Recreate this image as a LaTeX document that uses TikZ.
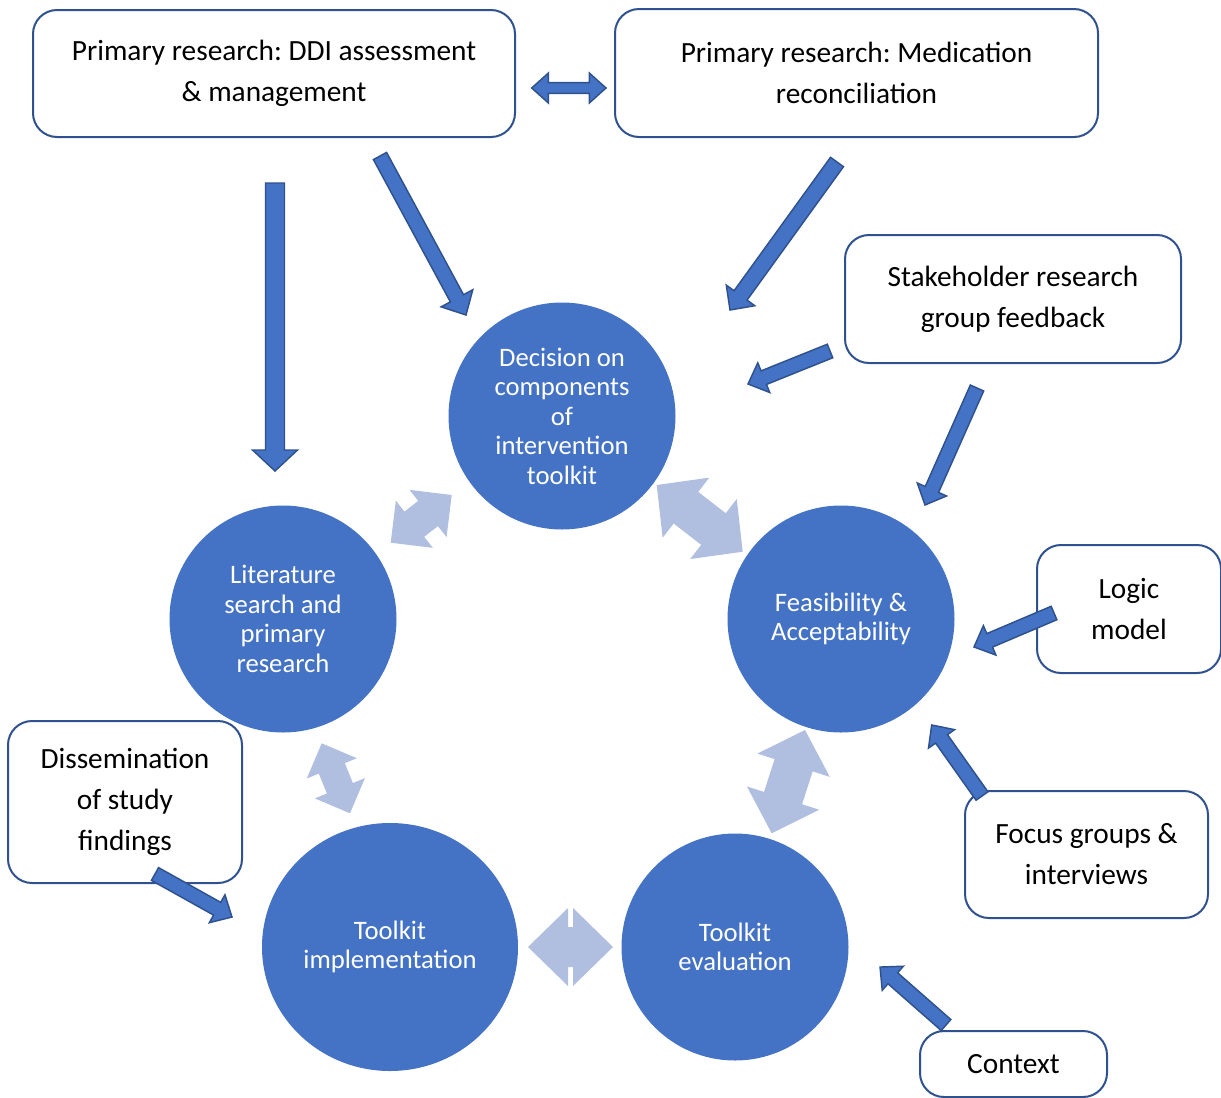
\documentclass[tikz,border=0pt]{standalone}
\usepackage{fontspec}
\setmainfont{Carlito}
\frenchspacing
\usetikzlibrary{shapes.geometric}

\definecolor{circblue}{HTML}{4472C4}
\definecolor{edgeblue}{HTML}{2F528F}
\definecolor{paleblue}{HTML}{B0BEE0}

% Single block arrow from tail (#2,#3) to tip (#4,#5);
% #6 shaft half-width, #7 head half-width, #8 head length (all in px)
\newcommand\blockarrow[8]{%
  \pgfmathsetmacro\bkAng{atan2(-((#5)-(#3)),(#4)-(#2))}%
  \pgfmathsetmacro\bkLen{0.75*veclen((#4)-(#2),(#5)-(#3))}%
  \pgfmathsetmacro\bkS{0.75*(#6)}%
  \pgfmathsetmacro\bkH{0.75*(#7)}%
  \pgfmathsetmacro\bkB{\bkLen-0.75*(#8)}%
  \draw[#1,shift={(#2,#3)},rotate=\bkAng]
    (0pt,-\bkS pt) -- (\bkB pt,-\bkS pt) -- (\bkB pt,-\bkH pt) -- (\bkLen pt,0pt)
    -- (\bkB pt,\bkH pt) -- (\bkB pt,\bkS pt) -- (0pt,\bkS pt) -- cycle;}

% Double-headed block arrow between tips (#2,#3) and (#4,#5)
\newcommand\twinarrow[8]{%
  \pgfmathsetmacro\bkAng{atan2(-((#5)-(#3)),(#4)-(#2))}%
  \pgfmathsetmacro\bkLen{0.75*veclen((#4)-(#2),(#5)-(#3))}%
  \pgfmathsetmacro\bkS{0.75*(#6)}%
  \pgfmathsetmacro\bkH{0.75*(#7)}%
  \pgfmathsetmacro\bkA{0.75*(#8)}%
  \pgfmathsetmacro\bkB{\bkLen-0.75*(#8)}%
  \draw[#1,shift={(#2,#3)},rotate=\bkAng]
    (0pt,0pt) -- (\bkA pt,\bkH pt) -- (\bkA pt,\bkS pt) -- (\bkB pt,\bkS pt)
    -- (\bkB pt,\bkH pt) -- (\bkLen pt,0pt) -- (\bkB pt,-\bkH pt) -- (\bkB pt,-\bkS pt)
    -- (\bkA pt,-\bkS pt) -- (\bkA pt,-\bkH pt) -- cycle;}

\tikzset{
  infobox/.style={draw=edgeblue, line width=1.5pt, fill=white, rounded corners=18pt,
    align=center, inner sep=0pt, font=\fontsize{22}{30.75}\selectfont},
  boxdim/.style 2 args={minimum width={#1*0.75pt}, minimum height={#2*0.75pt}},
  stage/.style={circle, fill=circblue, text=white, align=center, inner sep=0pt,
    font=\fontsize{20}{22.1}\selectfont},
  darkarrow/.style={fill=circblue, draw=edgeblue, line width=1.1pt, line join=miter},
  palearrow/.style={fill=paleblue, draw=none},
}

\begin{document}
\begin{tikzpicture}[x=0.75pt,y=-0.75pt]
\useasboundingbox (0,0) rectangle (1221,1097);

% information sources
\node[infobox, boxdim={482}{127}] (ddi) at (274,73.5)
  {Primary research: DDI assessment\\ \& management};
\node[infobox, boxdim={483}{128}] (medrec) at (856.5,73)
  {Primary research: Medication\\ reconciliation};
\node[infobox, boxdim={336}{128}] (stake) at (1013,299)
  {Stakeholder research\\ group feedback};
\node[infobox, boxdim={184}{128}] (logic) at (1129,609)
  {Logic\\ model};
\node[infobox, boxdim={234}{162}] (dissem) at (125,802)
  {Dissemination\\ of study\\ findings};
\node[infobox, boxdim={243}{127}] (focus) at (1086.5,854.5)
  {Focus groups \&\\ interviews};
\node[infobox, boxdim={187}{66}] (context) at (1013.5,1064)
  {Context};

% stages of the cycle
\node[stage, minimum size={227*0.75pt}] (decide) at (562,416)
  {Decision on\\ components\\ of\\ intervention\\ toolkit};
\node[stage, minimum size={227*0.75pt}] (lit) at (283,619)
  {Literature\\ search and\\ primary\\ research};
\node[stage, minimum size={227*0.75pt}] (feas) at (841,619)
  {Feasibility \&\\ Acceptability};
\node[stage, minimum size={227*0.75pt}] (eval) at (735,947)
  {Toolkit\\ evaluation};
\node[stage, ellipse, minimum width={256*0.75pt}, minimum height={248*0.75pt}] (impl) at (390,947)
  {Toolkit\\ implementation};

% links between stages
\twinarrow{palearrow}{390.7}{542.7}{451.7}{495}{16}{30}{30}
\twinarrow{palearrow}{656.7}{485}{742.7}{551.7}{20}{38}{37}
\twinarrow{palearrow}{321.7}{743.3}{350}{813.3}{14}{27}{27}
\twinarrow{palearrow}{805}{730}{771.7}{833.3}{20}{38}{37}
\twinarrow{palearrow}{528}{947}{613}{947}{20}{39}{40}

% inputs feeding the stages
\twinarrow{darkarrow}{531.7}{88}{606}{88}{5.3}{15}{16.7}
\blockarrow{darkarrow}{275}{183}{275}{471}{9.5}{22.5}{21}
\blockarrow{darkarrow}{380}{156}{466}{315}{7.5}{18}{19}
\blockarrow{darkarrow}{837}{162}{730}{310}{8}{17.6}{18}
\blockarrow{darkarrow}{830}{351}{748}{384}{7.3}{16}{17}
\blockarrow{darkarrow}{977}{388}{925}{505}{7.3}{16}{17}
\blockarrow{darkarrow}{1054}{613}{974}{647}{7.3}{16}{17}
\blockarrow{darkarrow}{982}{796}{931.7}{725}{7.3}{16}{17}
\blockarrow{darkarrow}{946}{1025}{880}{967}{7.3}{16}{17}
\blockarrow{darkarrow}{155}{874}{232}{917}{7.3}{16}{17}
\end{tikzpicture}
\end{document}
